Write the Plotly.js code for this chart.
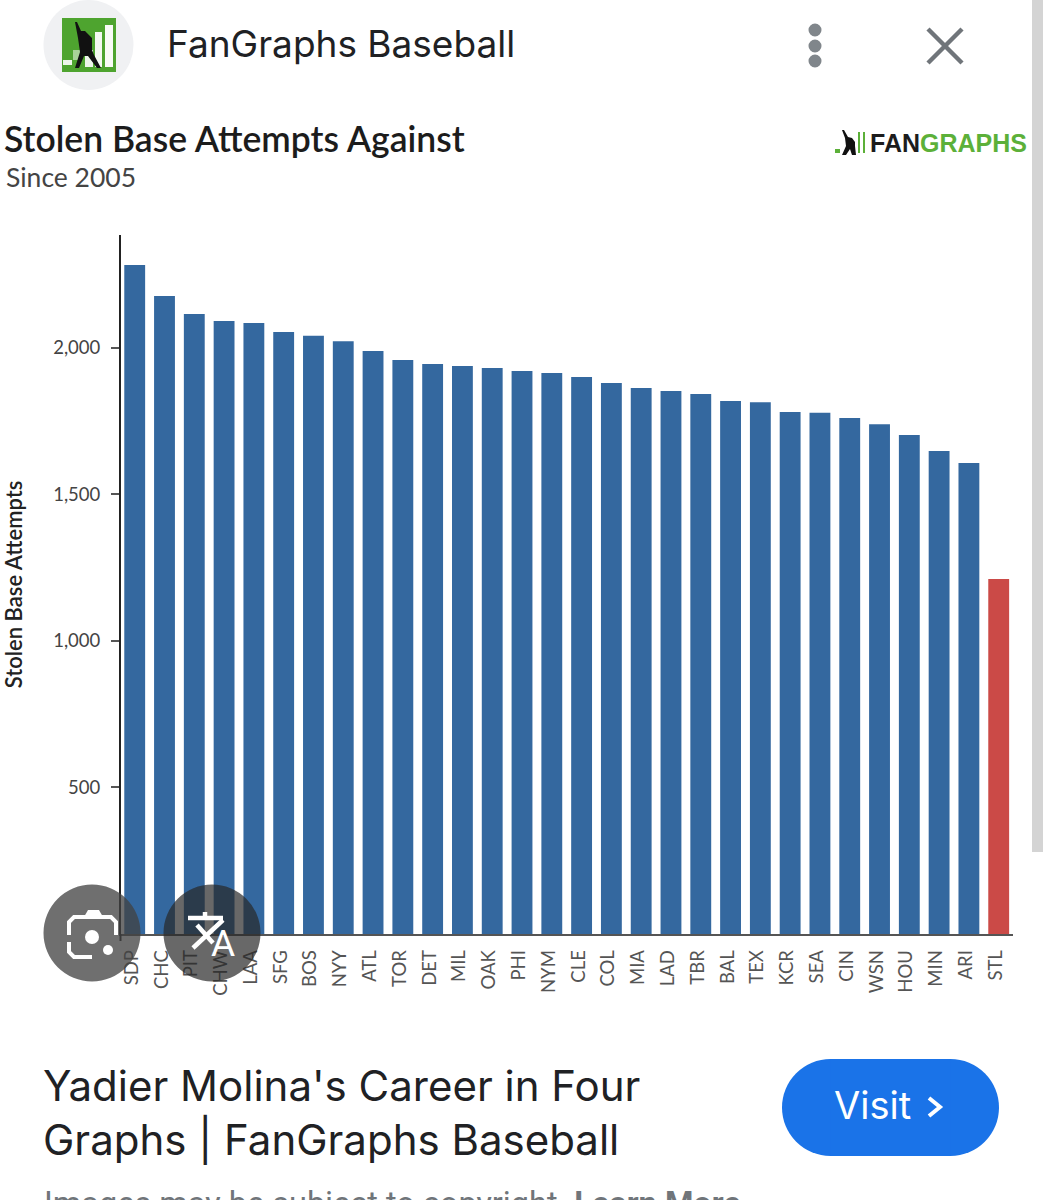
<!DOCTYPE html>
<html><head><meta charset="utf-8">
<script src="https://cdn.plot.ly/plotly-3.0.1.min.js"></script>
<style>html,body{margin:0;padding:0;background:#fff;overflow:hidden}#c{width:1043px;height:1200px}</style>
</head><body><div id="c"></div>
<script>
const teams = ["SDP","CHC","PIT","CHW","LAA","SFG","BOS","NYY","ATL","TOR","DET","MIL","OAK","PHI","NYM","CLE","COL","MIA","LAD","TBR","BAL","TEX","KCR","SEA","CIN","WSN","HOU","MIN","ARI","STL"];
const attempts = [2282,2176,2115,2091,2084,2053,2040,2022,1988,1958,1944,1937,1930,1920,1913,1900,1879,1862,1852,1842,1818,1814,1780,1778,1760,1739,1702,1647,1606,1211];
const yTicks = [500,1000,1500,2000];
const yTickLabels = ["500","1,000","1,500","2,000"];
const highlightTeam = "STL";

const W=1043,H=1200,L=121,R=1013,T=235,B=934;
const px=x=>(x-L)/(R-L), py=y=>(B-y)/(B-T);
const pth=(pts,close)=>"M"+pts.map(p=>px(p[0])+","+py(p[1])).join("L")+(close?"Z":"");
const base={xref:"paper",yref:"paper",layer:"above"};
const circle=(cx,cy,r,color)=>({...base,type:"circle",x0:px(cx-r),x1:px(cx+r),y0:py(cy+r),y1:py(cy-r),fillcolor:color,line:{width:0}});
const rect=(x0,y0,x1,y1,color)=>({...base,type:"rect",x0:px(x0),x1:px(x1),y0:py(y1),y1:py(y0),fillcolor:color,line:{width:0}});
const line=(pts,color,w)=>({...base,type:"path",path:pth(pts),line:{color,width:w},fillcolor:"rgba(0,0,0,0)"});
const poly=(pts,color)=>({...base,type:"path",path:pth(pts,true),fillcolor:color,line:{width:0}});
const text=(t,x,y,size,color,family,anchor,extra)=>({xref:"paper",yref:"paper",x:px(x),y:py(y),text:t,showarrow:false,xanchor:anchor||"left",yanchor:"middle",font:{size,color,family},...(extra||{})});

const shapes=[
 line([[120.5,934],[120.5,941]],"#222",2),
 rect(1032,0,1043,852,"#d4d4d4"),
 // app icon
 circle(88.5,45,45,"#f0f1f3"),
 rect(62,18,116,72,"#4ea42f"),
 rect(63,60,72,65,"#eef6ea"),rect(73,50,82,60,"#a9d398"),rect(85,50,93,67,"#eef6ea"),
 rect(95,32,102,67,"#f4f9f1"),rect(105,25,113,67,"#f8fbf6"),
 poly([[75,22],[77,22],[81,31],[85,31],[92,38],[92,50],[94,55],[101,68],[97,68],[88,56],[84,56],[79,68],[75,68],[80,52],[78,38]],"#111"),
 // menu dots and close
 circle(815,30,6.5,"#80868b"),circle(815,46,6.5,"#80868b"),circle(815,61,6.5,"#80868b"),
 line([[928,29],[962,63]],"#70757a",4.5),line([[962,29],[928,63]],"#70757a",4.5),
 // fangraphs logo mark
 rect(835,149,840,153,"#5cb039"),
 poly([[842,130],[844,130],[848,137],[852,138],[855,142],[855,146],[856,155],[852,155],[850,149],[846,155],[842,155],[846,146],[845,138]],"#111"),
 rect(858,132,860,153,"#5cb039"),rect(863,132,865,153,"#5cb039"),
 // overlay buttons
 circle(92,933,48.5,"rgba(66,66,66,0.76)"),
 circle(212,933,48.5,"rgba(40,40,40,0.7)"),
 // camera icon
 line([[87,917],[111,917],[116,922],[116,935]],"#fff",4),
 line([[87,917],[74,917],[69,922],[69,935]],"#fff",4),
 line([[69,942],[69,952],[74,957],[92,957]],"#fff",4),
 poly([[84,917],[88,910],[99,910],[103,917]],"#fff"),
 circle(92,937,7,"#fff"),circle(108,950,5,"#fff"),
 // translate icon
 line([[188,918],[223,918]],"#fff",4.5),line([[205,912],[205,918]],"#fff",4.5),
 line([[223,920],[193,948]],"#fff",4.5),line([[197,925],[213,943]],"#fff",4.5),
 // visit button
 circle(830.5,1107.5,48.5,"#1a73e8"),circle(950.5,1107.5,48.5,"#1a73e8"),rect(830.5,1059,950.5,1156,"#1a73e8"),
 line([[929,1098],[940,1107],[929,1116]],"#fff",4)
];

const annotations=[
 text("FanGraphs Baseball",165,44,37,"#202124","Inter, Roboto"),
 text("Since 2005",4,177,26.5,"#444","Lato"),
 text("<b>FAN</b><span style=\"color:#5cb039\"><b>GRAPHS</b></span>",868,143,25,"#1c1c1c","Liberation Sans"),
 text("A",223,943,37,"#fff","Roboto","center"),
 text("Yadier Molina's Career in Four",41,1085,42,"#202124","Inter, Roboto"),
 text("Graphs | FanGraphs Baseball",41,1139,42,"#202124","Inter, Roboto"),
 text("Visit",872,1105,38,"#fff","Inter, Roboto","center"),
 text("Images may be subject to copyright. <b>Learn More</b>",42,1204,32.5,"#70757a","Roboto")
];

Plotly.newPlot("c",[{
 type:"bar",x:teams,y:attempts,width:0.7,
 marker:{color:teams.map(t=>t===highlightTeam?"#cb4a47":"#34689f"),line:{width:0}},
 hoverinfo:"x+y"
}],{
 width:W,height:H,paper_bgcolor:"#fff",plot_bgcolor:"#fff",showlegend:false,
 margin:{l:L,r:W-R,t:T,b:H-B,pad:0},
 title:{text:"Stolen Base Attempts Against",x:4/W,xref:"container",xanchor:"left",y:1-140/H,yref:"container",yanchor:"middle",font:{family:"Lato",size:35.5,color:"#1c1c1c",weight:600}},
 xaxis:{type:"category",range:[-0.46,29.48],tickangle:-90,ticks:"",showgrid:false,zeroline:false,showline:true,linecolor:"#555",linewidth:1.5,tickfont:{family:"Lato",size:18.5,color:"#555"},ticklabelstandoff:7,ticklabelshift:-3,automargin:false},
 yaxis:{range:[0,(B-T)/0.2932],tickvals:yTicks,ticktext:yTickLabels,ticks:"outside",ticklen:8,tickcolor:"#555",tickwidth:1.5,showgrid:false,zeroline:false,showline:true,linecolor:"#222",linewidth:2,tickfont:{family:"Lato",size:18.5,color:"#444"},ticklabelstandoff:7,
  title:{text:"Stolen Base Attempts",standoff:34,font:{family:"Lato",size:22,color:"#222",weight:600}},automargin:false},
 shapes,annotations
},{displayModeBar:false});
</script></body></html>
